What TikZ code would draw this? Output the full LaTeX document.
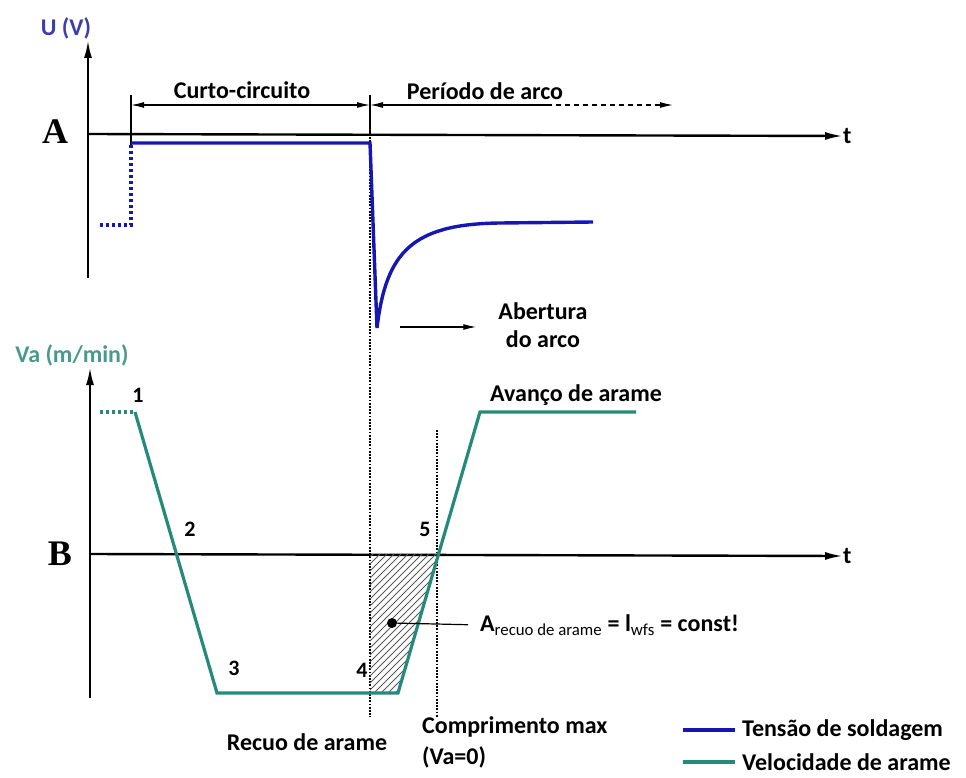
\documentclass[tikz,border=0pt]{standalone}
\usepackage{fontspec}
\setmainfont{Carlito}
\newfontfamily\panelfont{Liberation Serif}
\usetikzlibrary{arrows.meta}

\definecolor{corTensao}{RGB}{22,22,178}
\definecolor{corVeloc}{RGB}{38,138,122}
\definecolor{corU}{RGB}{62,62,168}
\definecolor{corVa}{RGB}{72,154,140}

\begin{document}
\begin{tikzpicture}
	[x=1pt,y=-1pt,
	every node/.style={font=\fontsize{24}{28}\selectfont\bfseries,inner sep=0pt},
	eixo/.style={line width=2.4pt,-{Latex[length=18pt,width=8pt]}},
	cota/.style={line width=1.2pt},
	ponta/.style={line width=1.2pt,-{Latex[length=13pt,width=6pt]}},
	pontilhado/.style={line width=2.2pt,dash pattern=on 1.8pt off 1.4pt},
	painel/.style={font=\panelfont\fontsize{36}{40}\selectfont\bfseries},
	tensao/.style={corTensao,line width=3.4pt},
	veloc/.style={corVeloc,line width=3.2pt},
	numero/.style={font=\fontsize{22}{26}\selectfont\bfseries},
	hachura/.style={black!65,line width=0.9pt}]
		\useasboundingbox (0,0) rectangle (966,778);
		% A
		\node[text=corU] (u) at (66,28) {U (V)};
		\node[painel] (a) at (55,132) {A};
		\node[anchor=west] (t1) at (843,136) {t};
		\coordinate (ua) at (88,278);
		\coordinate (oa) at (88,134);
		\draw[eixo] (ua) -- (88,40);
		\draw[eixo] (oa) -- (t1.west);
		\draw[cota] (131,95) -- (131,145);
		\draw[cota] (370,95) -- (370,134);
		\draw[pontilhado] (370,134) -- (370,717);
		\node (curto) at (242,90) {Curto-circuito};
		\node (arco) at (485,91) {Período de arco};
		\draw[cota,{Latex[length=13pt,width=6pt]}-{Latex[length=13pt,width=6pt]}] (131,105) -- (370,105);
		\draw[cota,{Latex[length=13pt,width=6pt]}-] (370,105) -- (547,105);
		\draw[ponta,dash pattern=on 5pt off 4pt] (547,105) -- (673,105);
		\draw[tensao,dash pattern=on 3pt off 3pt] (100,225) -- (131,225) -- (131,145);
		\draw[tensao] (131,143) -- (370,143) -- (377,328)
			.. controls (386,252) and (412,224) .. (500,223) -- (593,222);
		\node[align=center] (ab) at (543,325) {Abertura\\do arco};
		\coordinate (ab0) at (400,327);
		\draw[ponta,shorten >=22pt] (ab0) -- (ab0 -| ab.west);
		% B
		\node[text=corVa] (va) at (72,355) {Va (m/min)};
		\node[painel] (b) at (60,554) {B};
		\node[anchor=west] (t2) at (843,556) {t};
		\coordinate (ub) at (90,698);
		\coordinate (ob) at (90,554);
		\draw[eixo] (ub) -- (90,367);
		\draw[eixo] (ob) -- (t2.west);
		\begin{scope}
			\clip (370,554) -- (438,554) -- (398,693) -- (370,693) -- cycle;
			\foreach \s in {213,220,...,440}
				\draw[hachura] (\s,700) -- ++(150,-150);
		\end{scope}
		\draw[pontilhado] (437,430) -- (437,717);
		\draw[veloc,dash pattern=on 3pt off 3pt] (100,412) -- (135,412);
		\draw[veloc] (135,412) -- (217,693) -- (398,693) -- (480,412) -- (636,412);
		\node[numero] (n1) at (138,395) {1};
		\node[numero] (n2) at (190,529) {2};
		\node[numero] (n3) at (234,668) {3};
		\node[numero] (n4) at (362,670) {4};
		\node[numero] (n5) at (425,529) {5};
		\node (avanco) at (576,395) {Avanço de arame};
		\node[circle,fill,minimum size=10pt] (ponto) at (392,623) {};
		\node[anchor=west] (area) at (480,625) {A\textsubscript{\mdseries recuo de arame} = l\textsubscript{\mdseries wfs} = const!};
		\draw[cota,shorten >=12pt] (ponto.center) -- (area.west);
		\node (recuo) at (307,742) {Recuo de arame};
		\node[anchor=west] (comp) at (422,727) {Comprimento max};
		\node[anchor=west] (va0) at (422,757) {(Va=0)};
		% legenda
		\node[anchor=west] (leg1) at (742,730) {Tensão de soldagem};
		\node[anchor=west] (leg2) at (742,762) {Velocidade de arame};
		\draw[tensao] ([xshift=-7pt]leg1.west) -- ([xshift=-59pt]leg1.west);
		\draw[veloc] ([xshift=-7pt]leg2.west) -- ([xshift=-59pt]leg2.west);
\end{tikzpicture}
\end{document}
